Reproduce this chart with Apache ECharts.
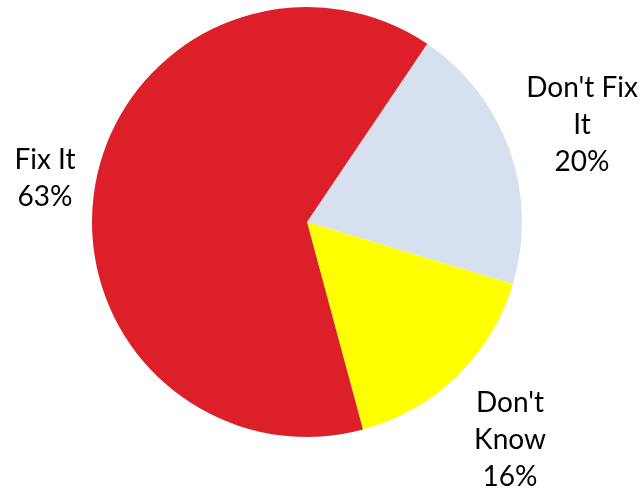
<!DOCTYPE html>
<html><head><meta charset="utf-8">
<script src="https://cdn.jsdelivr.net/npm/echarts@6/dist/echarts.min.js"></script>
<style>html,body{margin:0;padding:0;background:#fff}#c{width:643px;height:491px}</style>
</head><body><div id="c"></div>
<script>
const categories = ["Don't Fix It", "Don't Know", "Fix It"];
const labelTexts = ["Don't Fix\nIt", "Don't\nKnow", "Fix It"];
const values = [20, 16, 63];
const colors = ['#D6E0EF', '#FFFF00', '#DC1F28'];
const labelPos = [[582, 125], [510, 440], [45, 178]];

const chart = echarts.init(document.getElementById('c'));
chart.setOption({
  animation: false,
  series: [{
    type: 'pie',
    center: [307, 222],
    radius: 215,
    startAngle: 56,
    clockwise: true,
    avoidLabelOverlap: false,
    data: categories.map((c, i) => ({name: c, value: values[i], itemStyle: {color: colors[i]}})),
    label: {
      show: true,
      position: 'outside',
      overflow: 'none',
      width: 200,
      formatter: p => labelTexts[p.dataIndex] + '\n' + p.value + '%',
      fontFamily: 'Lato, sans-serif',
      fontSize: 28,
      lineHeight: 37,
      color: '#000',
      align: 'center'
    },
    labelLine: {show: false},
    labelLayout: p => ({x: labelPos[p.dataIndex][0], y: labelPos[p.dataIndex][1], align: 'center', verticalAlign: 'middle'}),
    emphasis: {disabled: true}
  }]
});
</script></body></html>
